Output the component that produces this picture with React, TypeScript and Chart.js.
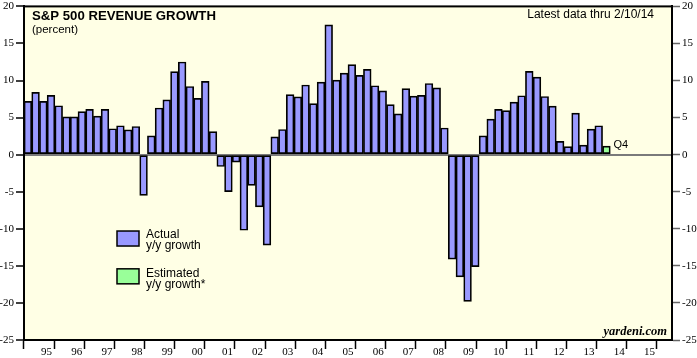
import React, { useEffect, useRef } from "react";
import { Chart, registerables } from "chart.js";

Chart.register(...registerables);

// ---------- DATA ----------
const yearLabels = ["95","96","97","98","99","00","01","02","03","04","05","06","07","08","09","10","11","12","13","14","15"];
const quarters = ["Q1","Q2","Q3","Q4"];

// Actual y/y revenue growth (%), 1995Q1 .. 2013Q3
const actualGrowth = [
  7.2, 8.4, 7.2, 8.0,      // 1995
  6.6, 5.1, 5.1, 5.8,      // 1996
  6.1, 5.2, 6.1, 3.5,      // 1997
  3.9, 3.35, 3.8, -5.5,    // 1998
  2.55, 6.3, 7.4, 11.2,    // 1999
  12.5, 9.2, 7.6, 9.9,     // 2000
  3.1, -1.6, -5.0, -1.0,   // 2001
  -10.2, -4.15, -7.05, -12.2, // 2002
  2.4, 3.4, 8.1, 7.8,      // 2003
  9.4, 6.9, 9.8, 17.5,     // 2004
  10.05, 11.0, 12.15, 10.7, // 2005
  11.5, 9.3, 8.6, 6.75,    // 2006
  5.5, 8.9, 7.9, 8.0,      // 2007
  9.6, 9.0, 3.6, -14.1,    // 2008
  -16.5, -19.8, -15.1, 2.55, // 2009
  4.8, 6.1, 5.95, 7.1,     // 2010
  7.95, 11.25, 10.45, 7.85, // 2011
  6.55, 1.8, 1.1, 5.6,     // 2012
  1.3, 3.45, 3.9,          // 2013 Q1-Q3
];
// Estimated y/y growth, 2013Q4
const estimatedGrowth = [1.15];
const estimatedLabel = "Q4";

const yMin = -25;
const yMax = 20;
const yStep = 5;

const titleText = "S&P 500 REVENUE GROWTH";
const subtitleText = "(percent)";
const latestText = "Latest data thru 2/10/14";
const sourceText = "yardeni.com";
const legendActual = ["Actual", "y/y growth"];
const legendEstimated = ["Estimated", "y/y growth*"];

const BAR_BLUE = "#9999FF";
const BAR_GREEN = "#99FF99";
const BG = "#FFFFE5";

export default function App() {
  const ref = useRef<HTMLCanvasElement | null>(null);

  useEffect(() => {
    const canvas = ref.current;
    if (!canvas) return;

    const labels: string[] = [];
    yearLabels.forEach((y) => quarters.forEach((q) => labels.push(y + q)));
    const actual: (number | null)[] = labels.map((_, i) => (i < actualGrowth.length ? actualGrowth[i] : null));
    const estimated: (number | null)[] = labels.map((_, i) => {
      const k = i - actualGrowth.length;
      return k >= 0 && k < estimatedGrowth.length ? estimatedGrowth[k] : null;
    });
    const estIndex = actualGrowth.length;

    const yearTicks: { value: number }[] = [];
    for (let v = 0; v <= yearLabels.length; v += 0.5) yearTicks.push({ value: v });

    const tickFont = { family: "'Liberation Serif', 'Times New Roman', serif", size: 11, lineHeight: 0.8 };

    const decor = {
      id: "decor",
      beforeDraw(chart: any) {
        const { ctx, chartArea: a } = chart;
        ctx.save();
        ctx.fillStyle = BG;
        ctx.fillRect(a.left, a.top, a.right - a.left, a.bottom - a.top);
        ctx.restore();
      },
      afterDraw(chart: any) {
        const { ctx, chartArea: a } = chart;
        ctx.save();
        // frame
        ctx.strokeStyle = "#000";
        ctx.lineWidth = 2;
        ctx.strokeRect(a.left, a.top, a.right - a.left, a.bottom - a.top);

        const sans = "'Liberation Sans', Arial, sans-serif";
        ctx.fillStyle = "#000";
        ctx.textBaseline = "alphabetic";
        ctx.textAlign = "left";
        ctx.font = `bold 13.2px ${sans}`;
        ctx.fillText(titleText, a.left + 8, a.top + 14);
        ctx.font = `11.5px ${sans}`;
        ctx.fillText(subtitleText, a.left + 8, a.top + 27);
        ctx.textAlign = "right";
        ctx.font = `12px ${sans}`;
        ctx.fillText(latestText, a.right - 18, a.top + 12);

        // Q4 label next to estimated bar
        const xs = chart.scales.x;
        const ys = chart.scales.y;
        const bx = xs.getPixelForValue(estIndex);
        const by = ys.getPixelForValue(estimatedGrowth[0]);
        ctx.textAlign = "left";
        ctx.font = `11px ${sans}`;
        ctx.fillText(estimatedLabel, bx + 7, by + 2);

        // legend
        const lx = a.left + 93;
        const drawBox = (y: number, color: string) => {
          ctx.fillStyle = color;
          ctx.fillRect(lx, y, 22, 15);
          ctx.strokeStyle = "#000";
          ctx.lineWidth = 1.5;
          ctx.strokeRect(lx, y, 22, 15);
        };
        drawBox(ys.getPixelForValue(-10.3), BAR_BLUE);
        drawBox(ys.getPixelForValue(-15.4), BAR_GREEN);
        ctx.fillStyle = "#000";
        ctx.font = `12px ${sans}`;
        const ty1 = ys.getPixelForValue(-11.3);
        ctx.fillText(legendActual[0], lx + 29, ty1);
        ctx.fillText(legendActual[1], lx + 29, ty1 + 11);
        const ty2 = ys.getPixelForValue(-16.5);
        ctx.fillText(legendEstimated[0], lx + 29, ty2);
        ctx.fillText(legendEstimated[1], lx + 29, ty2 + 11);

        // source
        ctx.textAlign = "right";
        ctx.font = `bold italic 12.5px 'Liberation Serif', 'Times New Roman', serif`;
        ctx.fillText(sourceText, a.right - 5, a.bottom - 5);
        ctx.restore();
      },
    };

    const barCommon = {
      borderColor: "#000",
      borderWidth: 1.7,
      borderSkipped: false,
      categoryPercentage: 1,
      barPercentage: 1,
      grouped: false,
      xAxisID: "x",
      yAxisID: "y",
    };

    const chart = new Chart(canvas, {
      type: "bar",
      data: {
        labels,
        datasets: [
          { label: "Actual", data: actual, backgroundColor: BAR_BLUE, ...barCommon } as any,
          { label: "Estimated", data: estimated, backgroundColor: BAR_GREEN, ...barCommon } as any,
        ],
      },
      options: {
        responsive: false,
        animation: false,
        devicePixelRatio: 1,
        layout: { padding: { top: 5, left: 0, right: 0, bottom: 0 } },
        plugins: { legend: { display: false }, tooltip: { enabled: false }, title: { display: false } },
        scales: {
          x: {
            type: "category",
            display: false,
            offset: true,
          },
          xYear: {
            type: "linear",
            position: "bottom",
            min: 0,
            max: yearLabels.length,
            afterBuildTicks: (scale: any) => {
              scale.ticks = yearTicks.map((t) => ({ value: t.value }));
            },
            afterFit: (scale: any) => {
              scale.height = 18;
            },
            grid: {
              drawOnChartArea: false,
              drawTicks: true,
              tickLength: 9,
              tickWidth: 1.5,
              tickColor: (ctx: any) => (ctx.tick && ctx.tick.value % 1 === 0 ? "#000" : "rgba(0,0,0,0)"),
            },
            border: { display: true, color: "#000", width: 2 },
            ticks: {
              autoSkip: false,
              maxRotation: 0,
              minRotation: 0,
              padding: -3,
              color: "#000",
              font: { family: "'Liberation Serif', 'Times New Roman', serif", size: 11 },
              callback: (value: any) => {
                const v = Number(value);
                if (Math.abs((v % 1) - 0.5) < 1e-6) return yearLabels[Math.floor(v)];
                return "";
              },
            },
          } as any,
          y: {
            type: "linear",
            position: "left",
            min: yMin,
            max: yMax,
            afterFit: (scale: any) => {
              scale.width = 24;
            },
            ticks: { stepSize: yStep, color: "#000", font: tickFont, padding: 2 },
            grid: {
              drawOnChartArea: true,
              tickLength: 8,
              tickWidth: 1.5,
              tickColor: "#000",
              color: (ctx: any) => (ctx.tick && ctx.tick.value === 0 ? "#7a7a7a" : "rgba(0,0,0,0)"),
              lineWidth: (ctx: any) => (ctx.tick && ctx.tick.value === 0 ? 2 : 0),
            },
            border: { display: true, color: "#000", width: 2 },
          } as any,
          y2: {
            type: "linear",
            position: "right",
            min: yMin,
            max: yMax,
            afterFit: (scale: any) => {
              scale.width = 25;
            },
            ticks: { stepSize: yStep, color: "#000", font: tickFont, padding: 2 },
            grid: {
              drawOnChartArea: false,
              tickLength: 8,
              tickWidth: 1.5,
              tickColor: "#666",
            },
            border: { display: true, color: "#000", width: 2 },
          } as any,
        },
      },
      plugins: [decor],
    });

    return () => chart.destroy();
  }, []);

  return (
    <div style={{ position: "fixed", left: 0, top: 0, width: 697, height: 358, background: "#fff" }}>
      <canvas ref={ref} width={697} height={358} style={{ display: "block" }} />
    </div>
  );
}
